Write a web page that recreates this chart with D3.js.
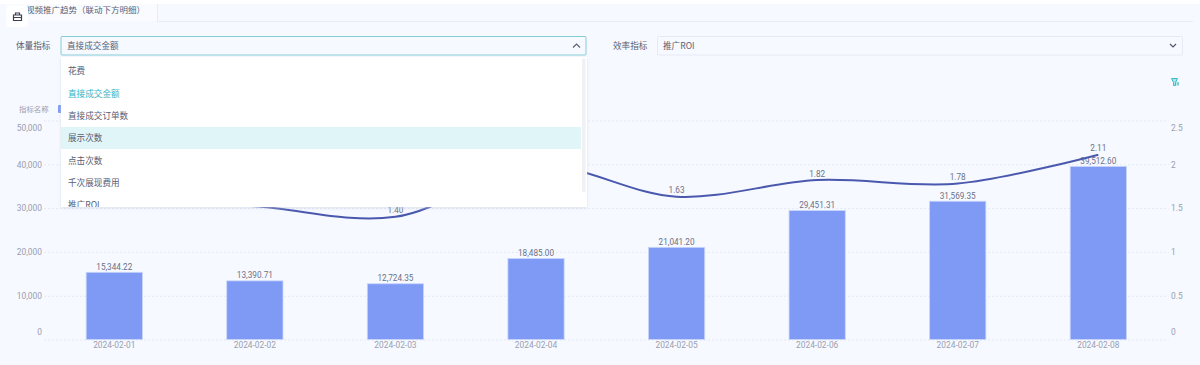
<!DOCTYPE html>
<html>
<head>
<meta charset="utf-8">
<script src="https://cdn.jsdelivr.net/npm/d3@7"></script>
<style>
  html, body { margin: 0; padding: 0; background: #f6f9ff; overflow: hidden; }
  text { font-family: "Roboto", "Noto Sans CJK SC", sans-serif; }
  .cn { font-family: "Noto Sans CJK SC", sans-serif; }
</style>
</head>
<body>
<div id="chart"></div>
<script>
// Chart data (points behind the dropdown are estimates)
const dates = ["2024-02-01", "2024-02-02", "2024-02-03", "2024-02-04", "2024-02-05", "2024-02-06", "2024-02-07", "2024-02-08"];
const amounts = [15344.22, 13390.71, 12724.35, 18485.00, 21041.20, 29451.31, 31569.35, 39512.60];
const roi = [1.60, 1.52, 1.40, 1.98, 1.63, 1.82, 1.78, 2.11];
const leftTicks = [0, 10000, 20000, 30000, 40000, 50000];
const rightTicks = [0, 0.5, 1, 1.5, 2, 2.5];
const options = ["花费", "直接成交金额", "直接成交订单数", "展示次数", "点击次数", "千次展现费用", "推广ROI"];

const width = 1200;
const height = 365;
const plotLeft = 44;
const plotRight = 1168.6;
const plotTop = 120.5;
const plotBottom = 339.5;

const svg = d3.select("#chart")
  .append("svg")
  .attr("width", width)
  .attr("height", height)
  .style("display", "block");

// Page background and top tab
svg.append("rect").attr("width", width).attr("height", height).attr("fill", "#f6f9ff");
svg.append("rect").attr("x", 5).attr("y", 4).attr("width", 152).attr("height", 17).attr("fill", "#f9fbff");
svg.append("text").attr("class", "cn").attr("x", 17.5).attr("y", 13.3).attr("font-size", 8.5).attr("fill", "#5a5e73")
  .text("短视频推广趋势（联动下方明细）");
svg.append("rect").attr("width", width).attr("height", 4).attr("fill", "#ffffff");
svg.append("line").attr("x1", 157.5).attr("x2", 157.5).attr("y1", 4).attr("y2", 21).attr("stroke", "#e8ecf5");
svg.append("line").attr("x1", 157).attr("x2", 1193).attr("y1", 21.5).attr("y2", 21.5).attr("stroke", "#e8ecf5");

// Scales
const x = d3.scaleBand()
  .domain(dates)
  .range([plotLeft, plotRight])
  .paddingInner(0.6)
  .paddingOuter(0.3);

const y = d3.scaleLinear().domain([0, 50000]).range([plotBottom, plotTop]);
const yRight = d3.scaleLinear().domain([0, 2.5]).range([plotBottom, plotTop]);

// Grid lines (behind bars)
svg.append("g")
  .attr("class", "grid")
  .attr("transform", `translate(${plotLeft},0)`)
  .call(d3.axisLeft(y).tickValues(leftTicks).tickSize(-(plotRight - plotLeft)).tickFormat(""))
  .call((g) => g.select(".domain").remove())
  .selectAll("line")
  .attr("stroke", "#e4e8f4")
  .attr("stroke-dasharray", "2,2");

// Axes, the end labels sit inside the plot height
const axisLeft = svg.append("g")
  .attr("transform", `translate(${plotLeft},0)`)
  .call(d3.axisLeft(y).tickValues(leftTicks).tickSize(0).tickPadding(2).tickFormat(d3.format(",")));
const axisRight = svg.append("g")
  .attr("transform", `translate(${plotRight},0)`)
  .call(d3.axisRight(yRight).tickValues(rightTicks).tickSize(0).tickPadding(2.5).tickFormat((d) => String(d)));
const axisBottom = svg.append("g")
  .attr("transform", `translate(0,${plotBottom})`)
  .call(d3.axisBottom(x).tickSize(0).tickPadding(3));

[axisLeft, axisRight, axisBottom].forEach((axis) => {
  axis.select(".domain").remove();
  axis.selectAll("text")
    .attr("fill", "#9a9eb0")
    .style("font-size", "8.4px")
    .style("font-family", "Roboto, sans-serif");
});
[axisLeft, axisRight].forEach((axis) => {
  axis.selectAll("text")
    .attr("dy", (d, i) => (i === 0 ? "-0.6em" : i === 5 ? "1.2em" : "0.32em"));
});

// Bars
svg.selectAll(".bar")
  .data(amounts)
  .enter()
  .append("rect")
  .attr("class", "bar")
  .attr("x", (d, i) => x(dates[i]))
  .attr("y", (d) => y(d))
  .attr("width", x.bandwidth())
  .attr("height", (d) => y(0) - y(d))
  .attr("fill", "#7f9af5")
  .attr("stroke", "#c9d5fb")
  .attr("stroke-width", 0.8);

const labelStyle = (sel) => sel
  .attr("text-anchor", "middle")
  .attr("font-size", 8.2)
  .attr("fill", "#6d7186");

svg.selectAll(".bar-label")
  .data(amounts)
  .enter()
  .append("text")
  .attr("class", "bar-label")
  .attr("x", (d, i) => x(dates[i]) + x.bandwidth() / 2)
  .attr("y", (d) => y(d) - 2.5)
  .text((d) => d3.format(",.2f")(d))
  .call(labelStyle);

// ROI line
const line = d3.line()
  .x((d, i) => x(dates[i]) + x.bandwidth() / 2)
  .y((d) => yRight(d))
  .curve(d3.curveCatmullRom.alpha(0));

svg.append("path")
  .datum(roi)
  .attr("d", line)
  .attr("fill", "none")
  .attr("stroke", "#4a58ad")
  .attr("stroke-width", 2);

svg.selectAll(".roi-label")
  .data(roi)
  .enter()
  .append("text")
  .attr("class", "roi-label")
  .attr("x", (d, i) => x(dates[i]) + x.bandwidth() / 2)
  .attr("y", (d) => yRight(d) - 3.5)
  .text((d) => d.toFixed(2))
  .call(labelStyle);

// Legend stub, mostly hidden by the dropdown
svg.append("text").attr("class", "cn").attr("x", 19).attr("y", 112).attr("font-size", 7.4).attr("fill", "#9a9eb0").text("指标名称");
svg.append("rect").attr("x", 58).attr("y", 105).attr("width", 6).attr("height", 8).attr("rx", 1).attr("fill", "#7f9af5");

// Filter labels and selects
const formLabel = (text, lx) => svg.append("text").attr("class", "cn")
  .attr("x", lx).attr("y", 49).attr("font-size", 8.6).attr("fill", "#5a5e73").text(text);
formLabel("体量指标", 16);
formLabel("效率指标", 613);

svg.append("rect").attr("x", 61).attr("y", 36.5).attr("width", 525).attr("height", 18.5).attr("rx", 1)
  .attr("fill", "#f6f9ff").attr("stroke", "#86ccd6");
svg.append("text").attr("class", "cn").attr("x", 67).attr("y", 49).attr("font-size", 8.6).attr("fill", "#5a5e73").text("直接成交金额");
svg.append("path").attr("d", "M573,47.5 L576.5,44 L580,47.5").attr("fill", "none").attr("stroke", "#5a5e73").attr("stroke-width", 1.1);

svg.append("rect").attr("x", 657.5).attr("y", 36.5).attr("width", 525).attr("height", 18.5).attr("rx", 1)
  .attr("fill", "#f6f9ff").attr("stroke", "#e6eaf5");
svg.append("text").attr("class", "cn").attr("x", 663).attr("y", 49).attr("font-size", 8.6).attr("fill", "#5a5e73").text("推广ROI");
svg.append("path").attr("d", "M1170,44 L1173,47 L1176,44").attr("fill", "none").attr("stroke", "#4d5166").attr("stroke-width", 1.1);

// Open dropdown over the chart
const defs = svg.append("defs");
defs.append("filter").attr("id", "menu-shadow").attr("x", "-5%").attr("y", "-5%").attr("width", "110%").attr("height", "110%")
  .append("feDropShadow").attr("dx", 0).attr("dy", 1).attr("stdDeviation", 1.5).attr("flood-color", "#c8cfe0").attr("flood-opacity", 0.6);
defs.append("clipPath").attr("id", "menu-clip")
  .append("rect").attr("x", 61).attr("y", 57).attr("width", 526).attr("height", 150);

svg.append("rect").attr("x", 61).attr("y", 57).attr("width", 526).attr("height", 150)
  .attr("fill", "#ffffff").attr("filter", "url(#menu-shadow)");

const menu = svg.append("g").attr("clip-path", "url(#menu-clip)");
menu.append("rect").attr("x", 61).attr("y", 127).attr("width", 520).attr("height", 22).attr("fill", "#e0f5f8");
menu.append("rect").attr("x", 582).attr("y", 58).attr("width", 3.5).attr("height", 134).attr("rx", 1.5).attr("fill", "#eff1f5");
menu.selectAll(".option")
  .data(options)
  .enter()
  .append("text")
  .attr("class", "cn")
  .attr("x", 68)
  .attr("y", (d, i) => 74.3 + i * 22.35)
  .attr("font-size", 8.6)
  .attr("fill", (d, i) => (i === 1 ? "#2fb6c6" : "#5a5e73"))
  .text((d) => d);

// Filter icon on the right
svg.append("path").attr("d", "M1171.5,78.5 L1177.5,78.5 L1175.5,82.5 L1175.5,85.5 L1173.5,85.5 L1173.5,82.5 Z")
  .attr("fill", "#a8e4ea").attr("stroke", "#38bcc9").attr("stroke-width", 1);
svg.append("rect").attr("x", 1176.5).attr("y", 82).attr("width", 2.5).attr("height", 3.5).attr("fill", "#7ad3dc");

// Floating toolbox button over the tab
svg.append("rect").attr("x", 7).attr("y", 6).attr("width", 21).attr("height", 21).attr("rx", 2).attr("fill", "#ffffff");
svg.append("path").attr("d", "M13.5,15 L21.5,15 L21.5,20.5 L13.5,20.5 Z M15.5,15 L15.5,13 L19.5,13 L19.5,15 M13.5,17.5 L21.5,17.5")
  .attr("fill", "none").attr("stroke", "#3c4053").attr("stroke-width", 1.2);
</script>
</body>
</html>
